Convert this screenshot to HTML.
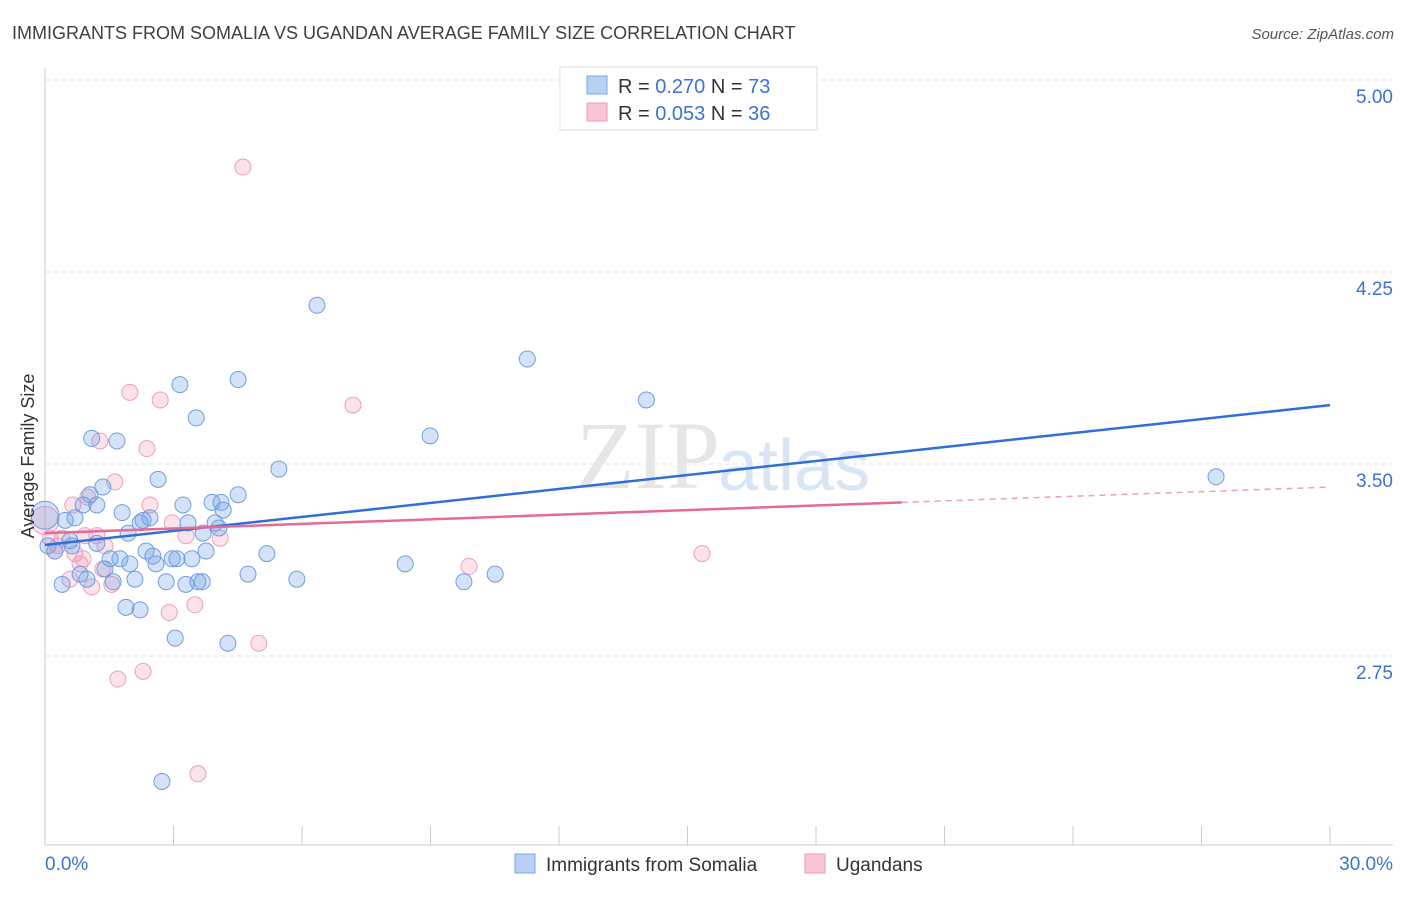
<!DOCTYPE html>
<html><head><meta charset="utf-8"><style>
body{margin:0;background:#fff;font-family:"Liberation Sans",sans-serif;}
</style></head><body>
<svg width="1406" height="892" xmlns="http://www.w3.org/2000/svg" id="chart" font-family="Liberation Sans, sans-serif">
<text x="12" y="39" font-size="18" fill="#3c4043">IMMIGRANTS FROM SOMALIA VS UGANDAN AVERAGE FAMILY SIZE CORRELATION CHART</text>
<text x="1394" y="39" font-size="15" fill="#555" font-style="italic" text-anchor="end">Source: ZipAtlas.com</text>
<text x="720" y="488" font-size="96" fill="#e6e6e6" font-family="Liberation Serif, serif" text-anchor="end">ZIP</text>
<text x="718" y="490" font-size="72" fill="#d7e5f5">atlas</text>
<g id="grid"></g><g id="axes"></g><g id="pts"></g><g id="lines"></g>
<g>
<rect x="560" y="67" width="257" height="63" fill="#fff" stroke="#ddd"/>
<rect x="587" y="76" width="20" height="18" fill="#b7d0f3" stroke="#7ea6e3"/>
<text x="618" y="93" font-size="20" fill="#333">R = <tspan fill="#3a73d1">0.270</tspan>   N = <tspan fill="#3a73d1">73</tspan></text>
<rect x="587" y="103" width="20" height="18" fill="#f8c6d6" stroke="#eb9ab5"/>
<text x="618" y="120" font-size="20" fill="#333">R = <tspan fill="#3a73d1">0.053</tspan>   N = <tspan fill="#3a73d1">36</tspan></text>
</g>
<g>
<rect x="515" y="854" width="20" height="19" fill="#b7d0f3" stroke="#7ea6e3"/>
<text x="546" y="871" font-size="19" fill="#333">Immigrants from Somalia</text>
<rect x="805" y="854" width="20" height="19" fill="#f8c6d6" stroke="#eb9ab5"/>
<text x="836" y="871" font-size="19" fill="#333">Ugandans</text>
</g>
<text x="34" y="456" font-size="18" fill="#333" transform="rotate(-90 34 456)" text-anchor="middle">Average Family Size</text>
</svg>
<script>
const yTicks=[5.00,4.25,3.50,2.75];
const xLabels=["0.0%","30.0%"];
const blueX=[0,.07,.23,.40,.47,.58,.63,.70,.82,.89,.98,1.05,1.09,1.21,1.21,1.35,1.40,1.52,1.59,1.68,1.75,1.80,1.89,1.94,1.98,2.10,2.22,2.22,2.29,2.36,2.45,2.52,2.59,2.64,2.83,2.97,3.04,3.08,3.15,3.22,3.29,3.34,3.43,3.53,3.57,3.67,3.69,3.76,3.90,3.97,4.06,4.16,4.11,4.27,4.51,4.51,4.74,5.18,5.46,5.88,6.35,8.41,8.99,9.78,10.51,11.26,14.04,27.34,2.73];
const blueY=[3.30,3.18,3.16,3.03,3.28,3.20,3.18,3.29,3.07,3.34,3.05,3.38,3.60,3.34,3.19,3.41,3.09,3.13,3.04,3.59,3.13,3.31,2.94,3.23,3.11,3.05,2.93,3.27,3.28,3.16,3.29,3.14,3.11,3.44,3.04,3.13,2.82,3.13,3.81,3.34,3.03,3.27,3.13,3.68,3.04,3.04,3.23,3.16,3.35,3.27,3.25,3.32,3.35,2.80,3.38,3.83,3.07,3.15,3.48,3.05,4.12,3.11,3.61,3.04,3.07,3.91,3.75,3.45,2.26];
const pinkX=[0,.12,.23,.30,.40,.58,.65,.70,.82,.89,.93,1.00,1.09,1.21,1.28,1.35,1.40,1.63,1.70,1.98,2.29,2.38,2.45,2.69,2.90,2.97,3.29,3.50,3.57,4.09,4.62,4.99,7.19,9.90,15.34,1.56];
const pinkY=[3.28,3.21,3.16,3.18,3.21,3.05,3.34,3.15,3.11,3.13,3.22,3.37,3.02,3.22,3.59,3.09,3.18,3.43,2.66,3.78,2.69,3.56,3.34,3.75,2.92,3.27,3.22,2.95,2.29,3.21,4.66,2.80,3.73,3.10,3.15,3.03];
const blueTrend=[3.184,3.730];
const pinkTrend=[3.23,3.41];
const pinkSolidEnd=20;
const NS="http://www.w3.org/2000/svg";
const X=v=>45+v/30*1285, Y=v=>80+(5-v)*256;
function mk(t,a,p){const e=document.createElementNS(NS,t);for(const k in a)e.setAttribute(k,a[k]);p.appendChild(e);return e;}
const g=document.getElementById('grid'),ax=document.getElementById('axes'),pts=document.getElementById('pts'),ln=document.getElementById('lines');
yTicks.forEach(v=>{
 const l=mk('line',{x1:45,x2:1393,y1:Y(v),y2:Y(v),stroke:'#e2e2e2','stroke-dasharray':'4,4'},g);
 
 
 const t=mk('text',{x:1393,y:Y(v)+23,'font-size':19,fill:'#3a73d1','text-anchor':'end'},g);
 t.textContent=v.toFixed(2);
 
 
});
const a1=mk('line',{x1:45,x2:45,y1:68,y2:845,stroke:'#ccc'},ax);


const a2=mk('line',{x1:45,x2:1393,y1:845,y2:845,stroke:'#ccc'},ax);


for(let i=0;i<=10;i++){const tk=mk('line',{x1:X(i*3),x2:X(i*3),y1:826,y2:845,stroke:'#ccc'},ax);
 
 }
[[0,'start',45],[1,'end',1393]].forEach(([i,an,x])=>{const t=mk('text',{x:x,y:870,'font-size':19,fill:'#3a73d1','text-anchor':an},ax);t.textContent=xLabels[i];
 
 });
function dots(xs,ys,fill,st,name){xs.forEach((x,i)=>{const c=mk('circle',{cx:X(x),cy:Y(ys[i]),r:x===0?14:8,fill:fill,stroke:st,'stroke-width':1},pts);
 
 });}
dots(pinkX,pinkY,'rgba(243,160,190,0.3)','#eba0bb','ugandans-point');
dots(blueX,blueY,'rgba(110,160,230,0.3)','#6f9fe0','somalia-point');
const bl=mk('line',{x1:X(0),y1:Y(blueTrend[0]),x2:X(30),y2:Y(blueTrend[1]),stroke:'#2f6fd6','stroke-width':2.5},ln);


const pm=pinkTrend[0]+(pinkTrend[1]-pinkTrend[0])*pinkSolidEnd/30;
const pl=mk('line',{x1:X(0),y1:Y(pinkTrend[0]),x2:X(pinkSolidEnd),y2:Y(pm),stroke:'#e56b95','stroke-width':2.5},ln);


const pd=mk('line',{x1:X(pinkSolidEnd),y1:Y(pm),x2:X(30),y2:Y(pinkTrend[1]),stroke:'#eba0bb','stroke-width':1.5,'stroke-dasharray':'6,5'},ln);


</script>
</body></html>
